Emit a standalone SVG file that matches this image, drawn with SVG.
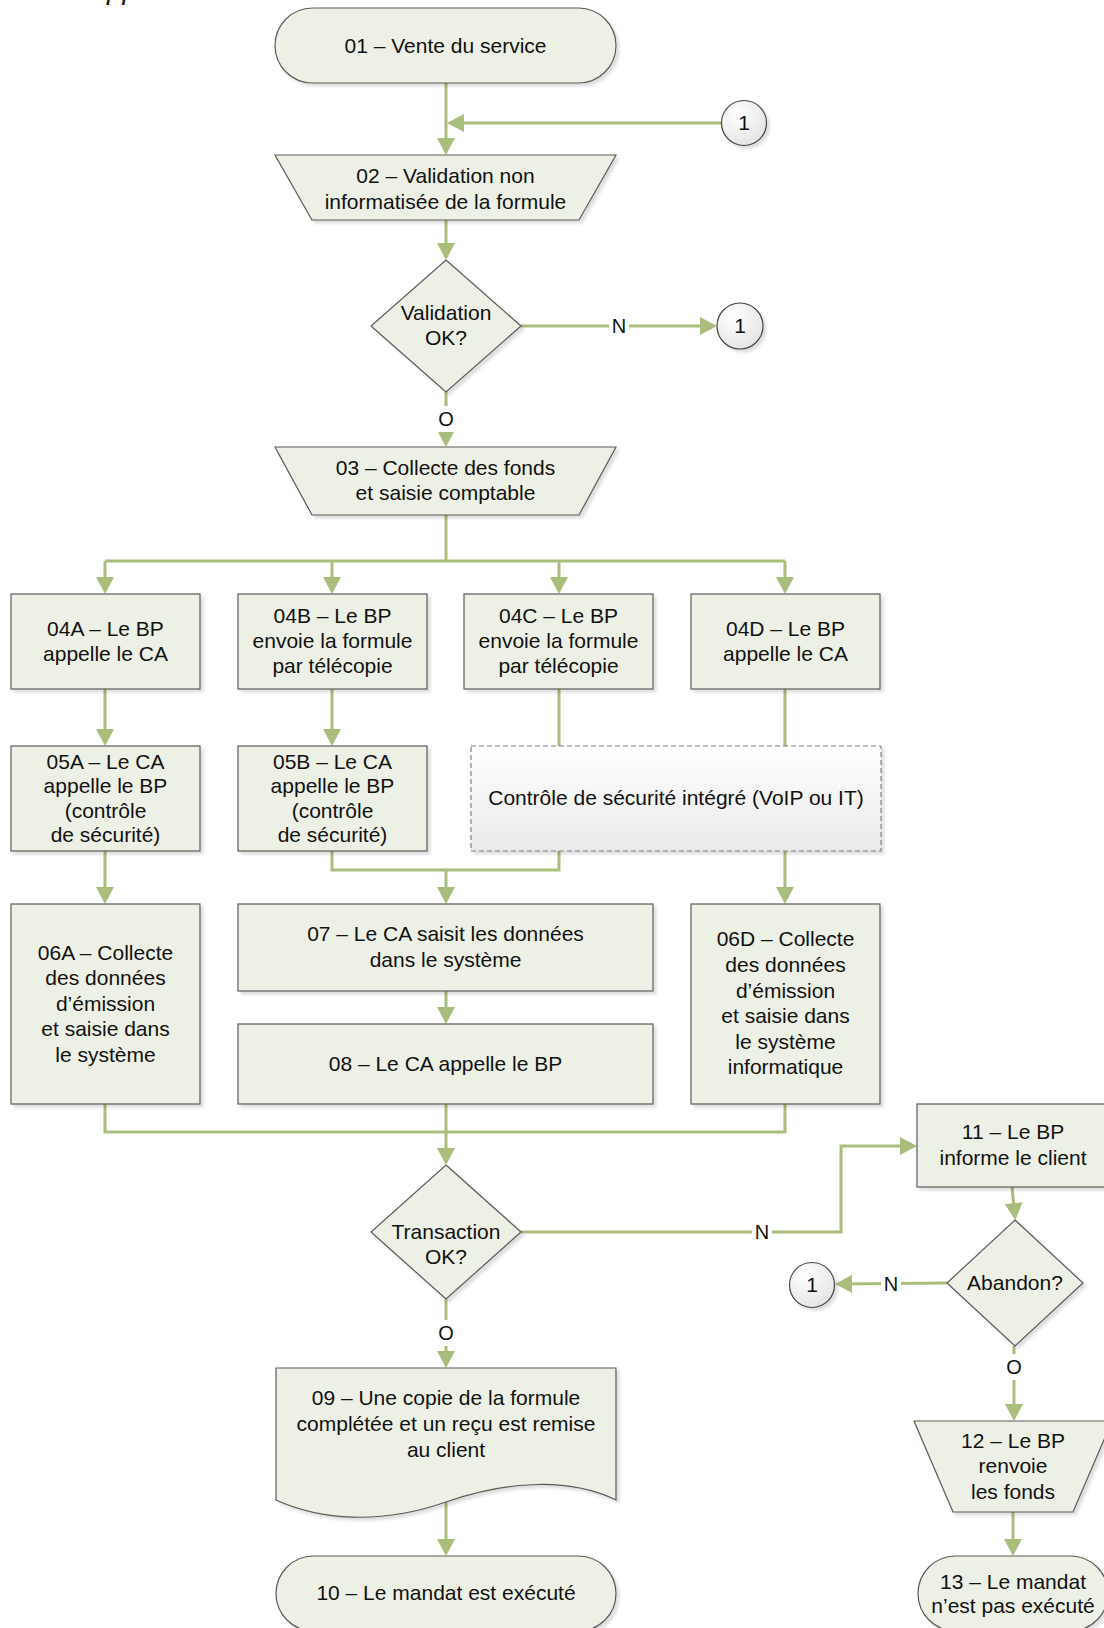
<svg xmlns="http://www.w3.org/2000/svg" width="1104" height="1628" viewBox="0 0 1104 1628">
  <style>
    .node { fill: #EDF0E5; stroke: #5A5A5A; stroke-width: 1.2; }
    .t { font-family: "Liberation Sans", Arial, sans-serif; font-size: 21px; fill: #111; text-anchor: middle; }
    .lbl { font-family: "Liberation Sans", Arial, sans-serif; font-size: 20px; fill: #111; text-anchor: middle; }
    .c { fill: none; stroke: #A9BD7C; stroke-width: 3; }
    .ca { fill: none; stroke: #A9BD7C; stroke-width: 3; marker-end: url(#ah); }
    .lbg { fill: #FFFFFF; }
    .circ { fill: url(#cg); stroke: #444; stroke-width: 1.2; }
  </style>
  <defs>
    <marker id="ah" markerWidth="18" markerHeight="18" viewBox="0 0 18 18" refX="14" refY="9" orient="auto" markerUnits="userSpaceOnUse">
      <path d="M0,0 L17,9 L0,18 z" fill="#A9BD7C"/>
    </marker>
    <filter id="sh" x="-10%" y="-10%" width="130%" height="130%">
      <feDropShadow dx="3" dy="3" stdDeviation="1.5" flood-color="#000" flood-opacity="0.13"/>
    </filter>
    <radialGradient id="cg" cx="35%" cy="30%" r="80%">
      <stop offset="0" stop-color="#FFFFFF"/>
      <stop offset="1" stop-color="#E2E2E2"/>
    </radialGradient>
    <linearGradient id="dg" x1="0" y1="0" x2="0" y2="1">
      <stop offset="0" stop-color="#FFFFFF"/>
      <stop offset="1" stop-color="#EAEAEA"/>
    </linearGradient>
  </defs>

  <text x="107" y="-1" font-family="Liberation Sans, Arial, sans-serif" font-size="28" font-style="italic" fill="#111">pp</text>

  <g id="connectors">
    <line class="ca" x1="446" y1="83" x2="446" y2="152"/>
    <line class="ca" x1="721" y1="123" x2="450" y2="123"/>
    <line class="ca" x1="446" y1="220" x2="446" y2="257"/>
    <line class="ca" x1="521" y1="326" x2="714" y2="326"/>
    <line class="ca" x1="446" y1="392" x2="446" y2="444"/>
    <line class="c" x1="446" y1="515" x2="446" y2="561"/>
    <line class="c" x1="105" y1="561" x2="785" y2="561"/>
    <line class="ca" x1="105" y1="561" x2="105" y2="591"/>
    <line class="ca" x1="332" y1="561" x2="332" y2="591"/>
    <line class="ca" x1="559" y1="561" x2="559" y2="591"/>
    <line class="ca" x1="785" y1="561" x2="785" y2="591"/>
    <line class="ca" x1="105" y1="689" x2="105" y2="743"/>
    <line class="ca" x1="332" y1="689" x2="332" y2="743"/>
    <line class="c" x1="559" y1="689" x2="559" y2="746"/>
    <line class="c" x1="785" y1="689" x2="785" y2="746"/>
    <line class="ca" x1="105" y1="851" x2="105" y2="901"/>
    <polyline class="c" points="332,851 332,870 559,870 559,851"/>
    <line class="ca" x1="446" y1="870" x2="446" y2="901"/>
    <line class="ca" x1="785" y1="851" x2="785" y2="901"/>
    <line class="ca" x1="446" y1="991" x2="446" y2="1021"/>
    <polyline class="c" points="105,1104 105,1132 785,1132 785,1104"/>
    <line class="ca" x1="446" y1="1104" x2="446" y2="1162"/>
    <polyline class="ca" points="521,1232 841,1232 841,1146 914,1146"/>
    <line class="ca" x1="446" y1="1299" x2="446" y2="1365"/>
    <line class="ca" x1="446" y1="1500" x2="446" y2="1553"/>
    <line class="ca" x1="1012" y1="1187" x2="1015" y2="1217"/>
    <line class="ca" x1="947" y1="1283" x2="838" y2="1284"/>
    <line class="ca" x1="1014" y1="1346" x2="1014" y2="1418"/>
    <line class="ca" x1="1013" y1="1512" x2="1013" y2="1553"/>

    <rect class="lbg" x="609" y="314" width="20" height="24"/>
    <text class="lbl" x="619" y="333">N</text>
    <rect class="lbg" x="435" y="406" width="22" height="26"/>
    <text class="lbl" x="446" y="426">O</text>
    <rect class="lbg" x="752" y="1220" width="20" height="24"/>
    <text class="lbl" x="762" y="1239">N</text>
    <rect class="lbg" x="435" y="1320" width="22" height="26"/>
    <text class="lbl" x="446" y="1340">O</text>
    <rect class="lbg" x="881" y="1272" width="20" height="24"/>
    <text class="lbl" x="891" y="1291">N</text>
    <rect class="lbg" x="1003" y="1354" width="22" height="26"/>
    <text class="lbl" x="1014" y="1374">O</text>
  </g>

  <g id="n01">
    <rect class="node" filter="url(#sh)" x="275" y="8" width="341" height="75" rx="37.5" ry="37.5"/>
    <text class="t" x="445.5" y="53">01 – Vente du service</text>
  </g>
  <g id="c1top">
    <circle class="circ" filter="url(#sh)" cx="744" cy="123" r="22.5"/>
    <text class="t" x="744" y="130">1</text>
  </g>
  <g id="n02">
    <polygon class="node" filter="url(#sh)" points="275,155 616,155 579,220 312,220"/>
    <text class="t" x="445.5" y="183">02 – Validation non</text>
    <text class="t" x="445.5" y="209">informatisée de la formule</text>
  </g>
  <g id="d1">
    <polygon class="node" filter="url(#sh)" points="446,260 521,326 446,392 371,326"/>
    <text class="t" x="446" y="320">Validation</text>
    <text class="t" x="446" y="345">OK?</text>
  </g>
  <g id="c1right">
    <circle class="circ" filter="url(#sh)" cx="740" cy="326" r="23"/>
    <text class="t" x="740" y="333">1</text>
  </g>
  <g id="n03">
    <polygon class="node" filter="url(#sh)" points="275,447 616,447 579,515 312,515"/>
    <text class="t" x="445.5" y="475">03 – Collecte des fonds</text>
    <text class="t" x="445.5" y="500">et saisie comptable</text>
  </g>
  <g id="n04A">
    <rect class="node" filter="url(#sh)" x="11" y="594" width="189" height="95"/>
    <text class="t" x="105.5" y="636">04A – Le BP</text>
    <text class="t" x="105.5" y="661">appelle le CA</text>
  </g>
  <g id="n04B">
    <rect class="node" filter="url(#sh)" x="238" y="594" width="189" height="95"/>
    <text class="t" x="332.5" y="623">04B – Le BP</text>
    <text class="t" x="332.5" y="648">envoie la formule</text>
    <text class="t" x="332.5" y="673">par télécopie</text>
  </g>
  <g id="n04C">
    <rect class="node" filter="url(#sh)" x="464" y="594" width="189" height="95"/>
    <text class="t" x="558.5" y="623">04C – Le BP</text>
    <text class="t" x="558.5" y="648">envoie la formule</text>
    <text class="t" x="558.5" y="673">par télécopie</text>
  </g>
  <g id="n04D">
    <rect class="node" filter="url(#sh)" x="691" y="594" width="189" height="95"/>
    <text class="t" x="785.5" y="636">04D – Le BP</text>
    <text class="t" x="785.5" y="661">appelle le CA</text>
  </g>
  <g id="n05A">
    <rect class="node" filter="url(#sh)" x="11" y="746" width="189" height="105"/>
    <text class="t" x="105.5" y="769">05A – Le CA</text>
    <text class="t" x="105.5" y="793">appelle le BP</text>
    <text class="t" x="105.5" y="818">(contrôle</text>
    <text class="t" x="105.5" y="842">de sécurité)</text>
  </g>
  <g id="n05B">
    <rect class="node" filter="url(#sh)" x="238" y="746" width="189" height="105"/>
    <text class="t" x="332.5" y="769">05B – Le CA</text>
    <text class="t" x="332.5" y="793">appelle le BP</text>
    <text class="t" x="332.5" y="818">(contrôle</text>
    <text class="t" x="332.5" y="842">de sécurité)</text>
  </g>
  <g id="ctrl">
    <rect filter="url(#sh)" x="471" y="746" width="410" height="105" fill="url(#dg)" stroke="#808080" stroke-width="1.2" stroke-dasharray="5,3"/>
    <text class="t" x="676" y="805">Contrôle de sécurité intégré (VoIP ou IT)</text>
  </g>
  <g id="n06A">
    <rect class="node" filter="url(#sh)" x="11" y="904" width="189" height="200"/>
    <text class="t" x="105.5" y="960">06A – Collecte</text>
    <text class="t" x="105.5" y="985">des données</text>
    <text class="t" x="105.5" y="1011">d’émission</text>
    <text class="t" x="105.5" y="1036">et saisie dans</text>
    <text class="t" x="105.5" y="1062">le système</text>
  </g>
  <g id="n07">
    <rect class="node" filter="url(#sh)" x="238" y="904" width="415" height="87"/>
    <text class="t" x="445.5" y="941">07 – Le CA saisit les données</text>
    <text class="t" x="445.5" y="967">dans le système</text>
  </g>
  <g id="n08">
    <rect class="node" filter="url(#sh)" x="238" y="1024" width="415" height="80"/>
    <text class="t" x="445.5" y="1071">08 – Le CA appelle le BP</text>
  </g>
  <g id="n06D">
    <rect class="node" filter="url(#sh)" x="691" y="904" width="189" height="200"/>
    <text class="t" x="785.5" y="946">06D – Collecte</text>
    <text class="t" x="785.5" y="972">des données</text>
    <text class="t" x="785.5" y="998">d’émission</text>
    <text class="t" x="785.5" y="1023">et saisie dans</text>
    <text class="t" x="785.5" y="1049">le système</text>
    <text class="t" x="785.5" y="1074">informatique</text>
  </g>
  <g id="d2">
    <polygon class="node" filter="url(#sh)" points="446,1165 521,1232 446,1299 371,1232"/>
    <text class="t" x="446" y="1239">Transaction</text>
    <text class="t" x="446" y="1264">OK?</text>
  </g>
  <g id="n09">
    <path class="node" filter="url(#sh)" d="M276,1368 H616 V1500 C570,1478 510,1480 446,1502 C380,1525 320,1520 276,1500 Z"/>
    <text class="t" x="446" y="1405">09 – Une copie de la formule</text>
    <text class="t" x="446" y="1431">complétée et un reçu est remise</text>
    <text class="t" x="446" y="1457">au client</text>
  </g>
  <g id="n10">
    <rect class="node" filter="url(#sh)" x="276" y="1556" width="340" height="75" rx="37.5" ry="37.5"/>
    <text class="t" x="446" y="1600">10 – Le mandat est exécuté</text>
  </g>
  <g id="n11">
    <rect class="node" filter="url(#sh)" x="917" y="1104" width="192" height="83"/>
    <text class="t" x="1013" y="1139">11 – Le BP</text>
    <text class="t" x="1013" y="1165">informe le client</text>
  </g>
  <g id="d3">
    <polygon class="node" filter="url(#sh)" points="1015,1220 1083,1283 1015,1346 947,1283"/>
    <text class="t" x="1015" y="1290">Abandon?</text>
  </g>
  <g id="c1bottom">
    <circle class="circ" filter="url(#sh)" cx="812" cy="1285" r="22.5"/>
    <text class="t" x="812" y="1292">1</text>
  </g>
  <g id="n12">
    <polygon class="node" filter="url(#sh)" points="914,1421 1112,1421 1073,1512 953,1512"/>
    <text class="t" x="1013" y="1448">12 – Le BP</text>
    <text class="t" x="1013" y="1473">renvoie</text>
    <text class="t" x="1013" y="1499">les fonds</text>
  </g>
  <g id="n13">
    <rect class="node" filter="url(#sh)" x="918" y="1556" width="190" height="75" rx="37.5" ry="37.5"/>
    <text class="t" x="1013" y="1589">13 – Le mandat</text>
    <text class="t" x="1013" y="1613">n’est pas exécuté</text>
  </g>
</svg>
